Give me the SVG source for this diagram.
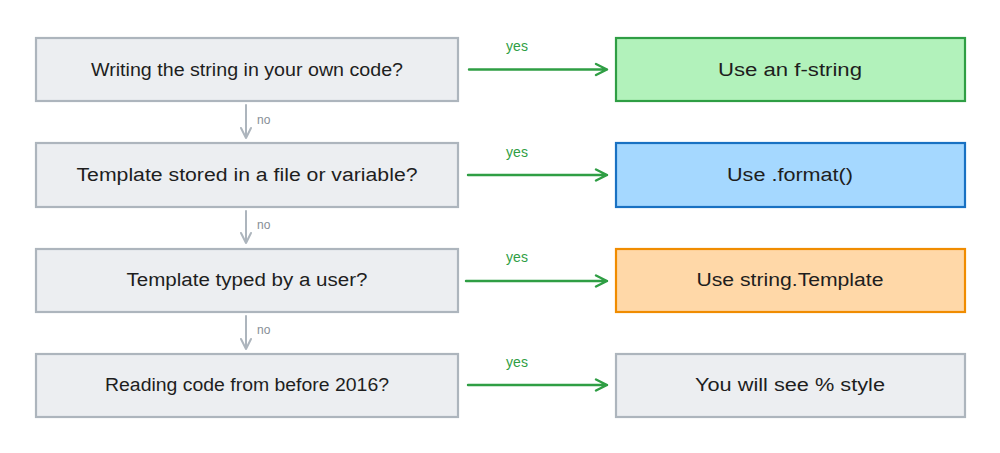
<svg xmlns="http://www.w3.org/2000/svg" width="1000" height="453" viewBox="0 0 1000 453">
<style>
.q rect{fill:#eceef1;stroke:#adb5bd;stroke-width:2.2}
.t{font-family:"Liberation Sans",Arial,sans-serif;font-size:18px;fill:#1e1e1e;text-anchor:middle;dominant-baseline:central}
.yes{font-family:"Liberation Sans",Arial,sans-serif;font-size:14px;fill:#2f9e44;text-anchor:middle;dominant-baseline:central}
.no{font-family:"Liberation Sans",Arial,sans-serif;font-size:12px;fill:#868e96;dominant-baseline:central}
.ya{stroke:#2f9e44;stroke-width:2.4;fill:none;stroke-linecap:round;stroke-linejoin:round}
.na{stroke:#adb5bd;stroke-width:2;fill:none;stroke-linecap:round;stroke-linejoin:round}
</style>
<rect width="1000" height="453" fill="#ffffff"/>
<g id="q1" class="q"><rect x="36" y="38" width="422" height="63"/><text class="t" x="247" y="70" textLength="312" lengthAdjust="spacingAndGlyphs">Writing the string in your own code?</text></g>
<g id="q2" class="q"><rect x="36" y="143" width="422" height="64"/><text class="t" x="247" y="175" textLength="341" lengthAdjust="spacingAndGlyphs">Template stored in a file or variable?</text></g>
<g id="q3" class="q"><rect x="36" y="249" width="422" height="63"/><text class="t" x="247" y="280" textLength="241" lengthAdjust="spacingAndGlyphs">Template typed by a user?</text></g>
<g id="q4" class="q"><rect x="36" y="354" width="422" height="63"/><text class="t" x="247" y="385" textLength="284" lengthAdjust="spacingAndGlyphs">Reading code from before 2016?</text></g>
<g id="a1"><rect x="616" y="38" width="349" height="63" fill="#b2f2bb" stroke="#2f9e44" stroke-width="2.2"/><text class="t" x="790" y="70" textLength="144" lengthAdjust="spacingAndGlyphs">Use an f-string</text></g>
<g id="a2"><rect x="616" y="143" width="349" height="64" fill="#a5d8ff" stroke="#1971c2" stroke-width="2.2"/><text class="t" x="790" y="175" textLength="126" lengthAdjust="spacingAndGlyphs">Use .format()</text></g>
<g id="a3"><rect x="616" y="249" width="349" height="63" fill="#ffd8a8" stroke="#f08c00" stroke-width="2.2"/><text class="t" x="790" y="280" textLength="187" lengthAdjust="spacingAndGlyphs">Use string.Template</text></g>
<g id="a4"><rect x="616" y="354" width="349" height="63" fill="#eceef1" stroke="#adb5bd" stroke-width="2.2"/><text class="t" x="790" y="385" textLength="190" lengthAdjust="spacingAndGlyphs">You will see % style</text></g>
<g id="connectors">
<path class="ya" d="M469 69.5 L607 69.5 M596 64 L607 69.5 L596 75"/>
<text class="yes" x="517" y="46">yes</text>
<path class="ya" d="M468 175 L607 175 M596 169.5 L607 175 L596 180.5"/>
<text class="yes" x="517" y="152">yes</text>
<path class="ya" d="M466 281 L607 281 M596 275.5 L607 281 L596 286.5"/>
<text class="yes" x="517" y="257">yes</text>
<path class="ya" d="M468 385 L607 385 M596 379.5 L607 385 L596 390.5"/>
<text class="yes" x="517" y="362">yes</text>
<path class="na" d="M246 105 L246 138 M241 128 L246 138 L251 128"/>
<text class="no" x="257" y="120">no</text>
<path class="na" d="M246 211 L246 243 M241 233 L246 243 L251 233"/>
<text class="no" x="257" y="225">no</text>
<path class="na" d="M246 316 L246 349 M241 339 L246 349 L251 339"/>
<text class="no" x="257" y="330">no</text>
</g>
</svg>
